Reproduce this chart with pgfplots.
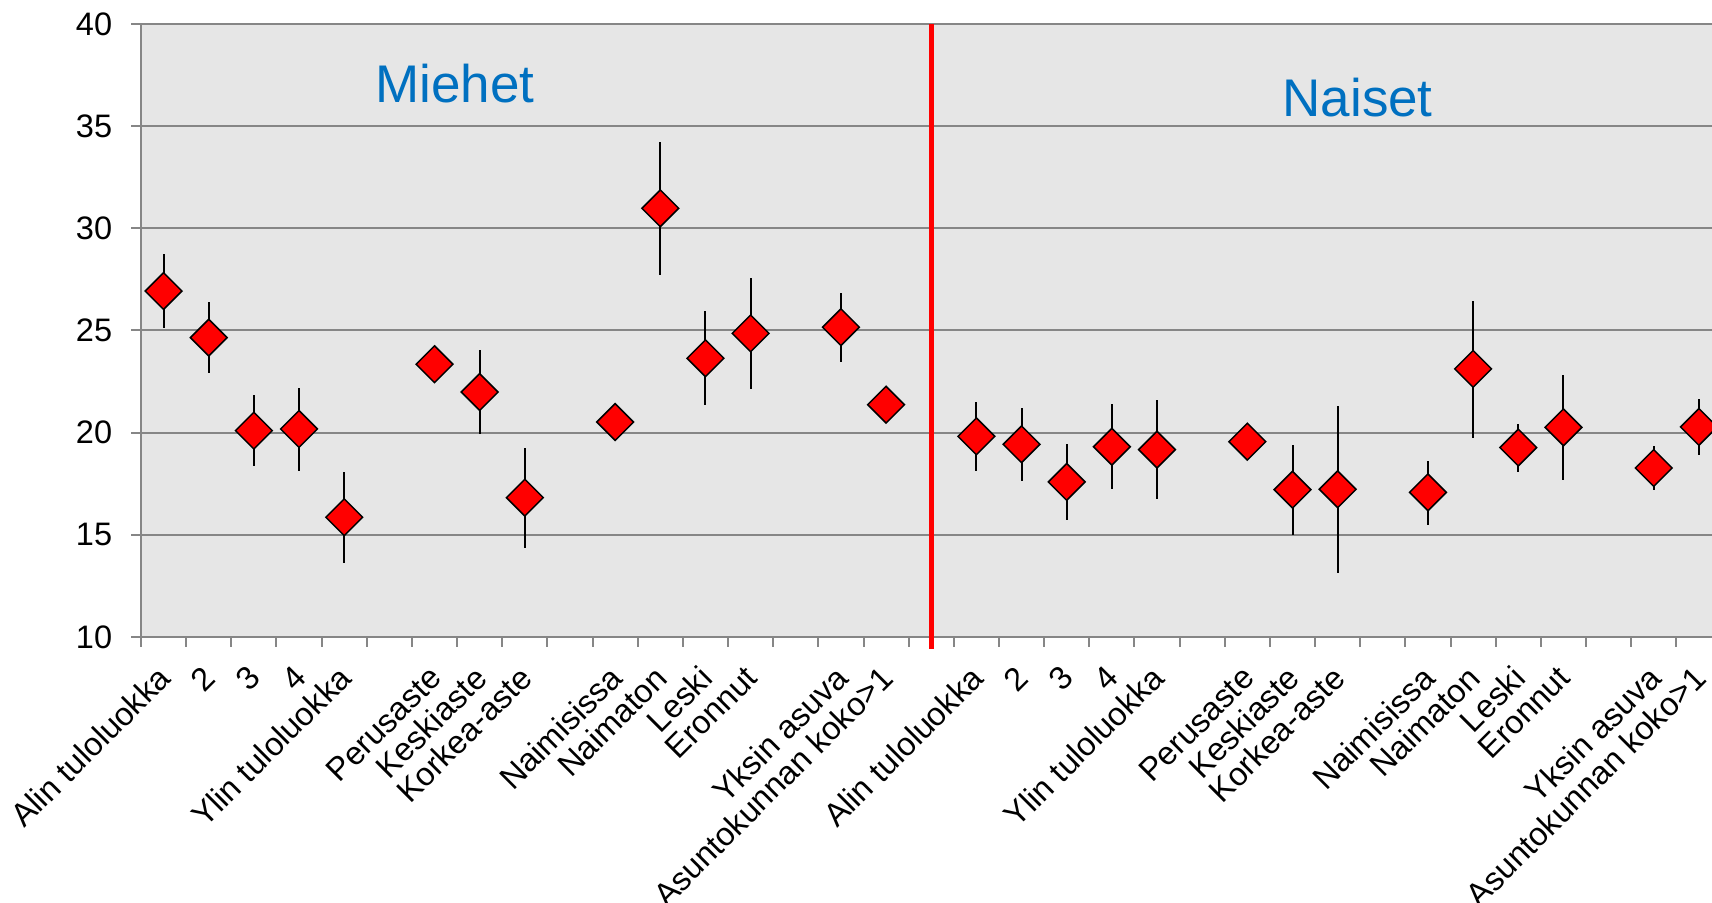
\documentclass[border=0pt]{standalone}
\usepackage{fontspec}
\setmainfont{Liberation Sans}
\usepackage{pgfplots}
\usepackage{pgfplotstable}
\pgfplotsset{compat=1.18}
\definecolor{bggray}{RGB}{230,230,230}
\definecolor{gridgray}{RGB}{134,134,134}
\definecolor{titleblue}{RGB}{0,112,192}

\pgfplotstableread{
x y ep em
0 26.93 1.81 1.82
1 24.65 1.73 1.75
2 20.10 1.74 1.73
3 20.18 2.02 2.04
4 15.86 2.23 2.22
6 23.35 0.80 0.80
7 21.99 2.06 2.06
8 16.82 2.44 2.48
10 20.52 0.60 0.60
11 30.98 3.23 3.25
12 23.64 2.31 2.30
13 24.86 2.69 2.74
15 25.16 1.69 1.69
16 21.37 0.60 0.60
}\men

\pgfplotstableread{
x y ep em
18 19.82 1.68 1.70
19 19.43 1.79 1.81
20 17.59 1.84 1.85
21 19.31 2.09 2.08
22 19.17 2.41 2.40
24 19.56 0.70 0.70
25 17.21 2.19 2.22
26 17.23 4.09 4.11
28 17.08 1.55 1.58
29 23.12 3.32 3.40
30 19.27 1.17 1.18
31 20.26 2.58 2.58
33 18.27 1.09 1.08
34 20.28 1.37 1.37
}\women

\begin{document}
\begin{tikzpicture}
\useasboundingbox (-70.5pt,-133pt) rectangle (785.5pt,318.5pt);
\begin{axis}[
  at={(0,0)}, anchor=south west,
  scale only axis,
  width=785.5pt, height=306.5pt,
  xmin=-0.5, xmax=34.29,
  ymin=10, ymax=40,
  ytick={10,15,...,40},
  xtick={-0.5,0.5,...,33.5},
  xticklabels={},
  extra x ticks={0,1,...,34},
  extra x tick labels={Alin tuloluokka,2,3,4,Ylin tuloluokka,,Perusaste,Keskiaste,Korkea-aste,,Naimisissa,Naimaton,Leski,Eronnut,,Yksin asuva,Asuntokunnan koko>1,,Alin tuloluokka,2,3,4,Ylin tuloluokka,,Perusaste,Keskiaste,Korkea-aste,,Naimisissa,Naimaton,Leski,Eronnut,,Yksin asuva,Asuntokunnan koko>1},
  extra x tick style={major tick length=0pt, grid=none},
  axis x line*=bottom,
  axis y line*=left,
  axis line style={draw=gridgray, line width=1pt},
  axis background/.style={fill=bggray},
  ymajorgrids,
  grid style={draw=gridgray, line width=1pt},
  tick align=outside,
  major tick length=4.75pt,
  tick style={draw=gridgray, line width=1pt},
  x tick label style={font=\fontsize{16.25}{19}\selectfont, xshift=0.6pt, yshift=-17.5pt, rotate=45, anchor=east, inner sep=0pt},
  y tick label style={font=\fontsize{16.25}{19}\selectfont, anchor=east, inner sep=0pt, xshift=-9.5pt},
  /pgf/number format/assume math mode=true,
  clip=true,
]
\addplot[draw=none, mark=none, forget plot,
  error bars/.cd, y dir=both, y explicit, error mark=none,
  error bar style={black, line width=1pt}]
  table[x=x, y=y, y error plus=ep, y error minus=em]{\men};
\addplot[draw=none, mark=none, forget plot,
  error bars/.cd, y dir=both, y explicit, error mark=none,
  error bar style={black, line width=1pt}]
  table[x=x, y=y, y error plus=ep, y error minus=em]{\women};
\addplot[only marks, mark=square*, mark size=6.5pt,
  mark options={rotate=45, fill=red, draw=black, line width=0.75pt}]
  table[x=x, y=y]{\men};
\addplot[only marks, mark=square*, mark size=6.5pt,
  mark options={rotate=45, fill=red, draw=black, line width=0.75pt}]
  table[x=x, y=y]{\women};
\draw[red, line width=2.25pt] (axis cs:17,40) -- (axis cs:17,10);
\coordinate (redbot) at (axis cs:17,10);
\node[anchor=base west, inner sep=0pt, text=titleblue, font=\fontsize{26.5}{30}\selectfont] at (axis cs:4.68,36.18) {Miehet};
\node[anchor=base west, inner sep=0pt, text=titleblue, font=\fontsize{26.5}{30}\selectfont] at (axis cs:24.77,35.45) {Naiset};
\end{axis}
\draw[red, line width=2.25pt] (redbot) -- ++(0,-6pt);
\end{tikzpicture}
\end{document}
